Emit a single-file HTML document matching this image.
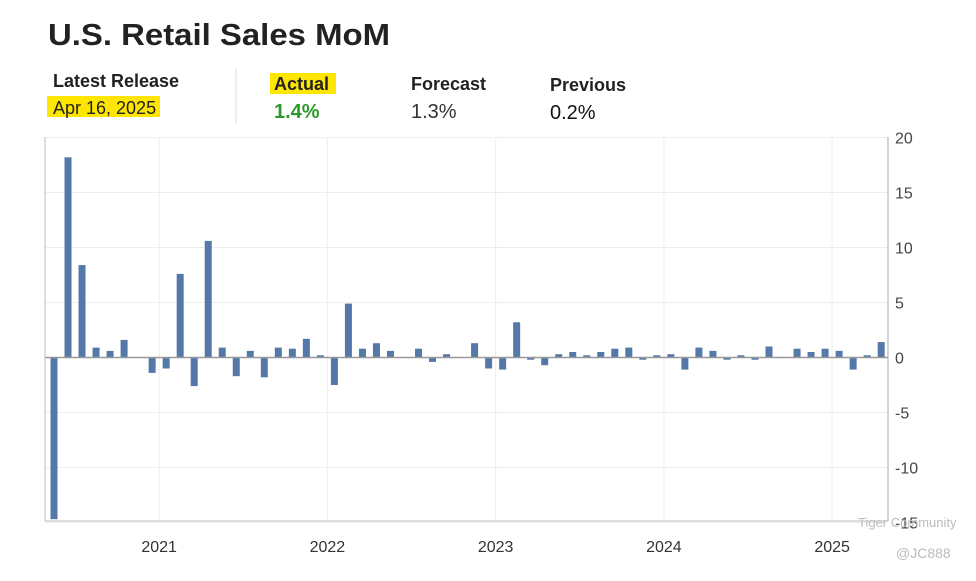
<!DOCTYPE html>
<html><head><meta charset="utf-8"><style>
body{margin:0;background:#fff;width:976px;height:576px;overflow:hidden;font-family:"Liberation Sans",Arial,sans-serif;}
</style></head><body>
<svg width="976" height="576" viewBox="0 0 976 576" xmlns="http://www.w3.org/2000/svg" font-family="Liberation Sans, Arial, sans-serif">
<text x="48" y="45" font-size="31" font-weight="bold" fill="#222" textLength="342" lengthAdjust="spacingAndGlyphs">U.S. Retail Sales MoM</text>
<g>
<text x="53" y="87" font-size="18" font-weight="bold" fill="#222">Latest Release</text>
<rect x="47" y="96" width="113" height="21" fill="#ffe600"/>
<text x="53" y="114" font-size="18" fill="#222">Apr 16, 2025</text>
<line x1="236" y1="68" x2="236" y2="124" stroke="#ddd"/>
<rect x="270" y="73" width="66" height="21" fill="#ffe600"/>
<text x="274" y="90" font-size="18" font-weight="bold" fill="#222">Actual</text>
<text x="274" y="118" font-size="20" font-weight="bold" fill="#2a9a2a">1.4%</text>
<text x="411" y="90" font-size="18" font-weight="bold" fill="#222">Forecast</text>
<text x="411" y="118" font-size="20" fill="#333">1.3%</text>
<text x="550" y="91" font-size="18" font-weight="bold" fill="#222">Previous</text>
<text x="550" y="119" font-size="20" fill="#111">0.2%</text>
</g>
<g id="grid"></g>
<g id="bars"></g>
<g id="axes"></g>
<text x="858" y="527" font-size="13" fill="#bbb">Tiger Community</text>
<text x="896" y="558" font-size="14" fill="#bbb">@JC888</text>
</svg>
<script>
const values=[-14.7,18.2,8.4,0.9,0.6,1.6,0,-1.4,-1.0,7.6,-2.6,10.6,0.9,-1.7,0.6,-1.8,0.9,0.8,1.7,0.2,-2.5,4.9,0.8,1.3,0.6,0,0.8,-0.4,0.3,0,1.3,-1.0,-1.1,3.2,-0.2,-0.7,0.3,0.5,0.2,0.5,0.8,0.9,-0.2,0.2,0.3,-1.1,0.9,0.6,-0.2,0.2,-0.2,1.0,0.05,0.8,0.5,0.8,0.6,-1.1,0.2,1.4];
const yTicks=[20,15,10,5,0,-5,-10,-15];
const years=[2021,2022,2023,2024,2025];
const NS="http://www.w3.org/2000/svg";
const L=45,R=888,T=137,B=521;
function y(v){return 357.5-v*11;}
function x(i){return 54+i*14.02;}
function yearX(yr){return x((yr-2020)*12-4.5);}
function mk(tag,attrs,parent){const e=document.createElementNS(NS,tag);for(const k in attrs)e.setAttribute(k,attrs[k]);parent.appendChild(e);return e;}
const grid=document.getElementById('grid'),bars=document.getElementById('bars'),axes=document.getElementById('axes');
yTicks.forEach(t=>{
  const ln=mk('line',{x1:L,x2:R,y1:y(t),y2:y(t),stroke:'#eee'},grid);
  
  
  const tx=mk('text',{x:895,y:y(t)+6,'font-size':16,fill:'#444'},axes);
  tx.textContent=String(t);
  
  
});
years.forEach(yr=>{
  const gx=yearX(yr);
  const ln=mk('line',{x1:gx,x2:gx,y1:T,y2:B,stroke:'#eee'},grid);
  
  
  const tx=mk('text',{x:gx,y:552,'font-size':16,fill:'#333','text-anchor':'middle'},axes);
  tx.textContent=String(yr);
  
  
});
values.forEach((v,i)=>{
  const top=Math.min(y(v),y(0)),h=Math.abs(y(v)-y(0));
  const r=mk('rect',{x:x(i)-3.5,y:top,width:7,height:Math.max(h,0.5),fill:'#5478a8'},bars);
  
  
});
const z=mk('line',{x1:L,x2:R,y1:y(0),y2:y(0),stroke:'#999','stroke-width':1.5},axes);


const la=mk('line',{x1:L,x2:L,y1:T,y2:B,stroke:'#bbb'},axes);


const ra=mk('line',{x1:R,x2:R,y1:T,y2:B,stroke:'#aaa'},axes);


const ba=mk('line',{x1:L,x2:R,y1:B,y2:B,stroke:'#bbb'},axes);


</script>
</body></html>
